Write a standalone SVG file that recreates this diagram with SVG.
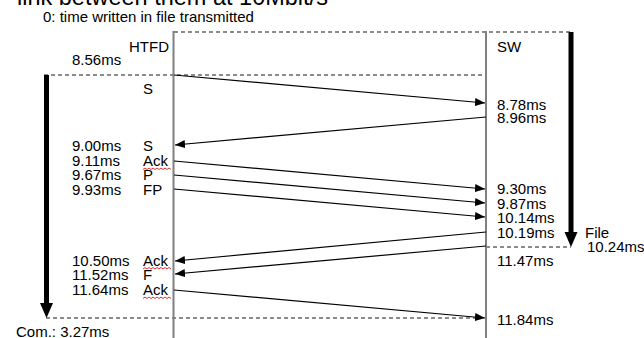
<svg xmlns="http://www.w3.org/2000/svg" width="644" height="338" viewBox="0 0 644 338">
<defs>
<marker id="ah" markerUnits="userSpaceOnUse" markerWidth="10" markerHeight="8" refX="10" refY="4" orient="auto">
<path d="M0,0 L10,4 L0,8 z" fill="#000"/>
</marker>
<style>
text{font-family:"Liberation Sans",Arial,sans-serif;font-size:15px;fill:#000}
.title{font-size:23.5px}
.life{stroke:#808080;stroke-width:2;fill:none}
.dash{stroke:#666;stroke-width:1.5;stroke-dasharray:4 3;fill:none}
.msg{stroke:#000;stroke-width:1.2;fill:none;marker-end:url(#ah)}
.thick{stroke:#000;stroke-width:5;fill:none}
.sq{stroke:#e03030;stroke-width:1;fill:none}
</style>
</defs>
<rect width="644" height="338" fill="#fff"/>
<text class="title" x="17" y="5">link between them at 10Mbit/s</text>
<text x="43" y="22">0: time written in file transmitted</text>

<g id="dashed-guides">
<line class="dash" x1="174" y1="32" x2="571" y2="32"/>
<line class="dash" x1="44" y1="75" x2="486" y2="75"/>
<line class="dash" x1="486" y1="247" x2="571" y2="247"/>
<line class="dash" x1="46" y1="318" x2="478" y2="318"/>
</g>

<g id="node-htfd">
<line class="life" x1="173.5" y1="31" x2="173.5" y2="338"/>
<text x="169" y="52" text-anchor="end">HTFD</text>
</g>
<g id="node-sw">
<line class="life" x1="486" y1="31" x2="486" y2="338"/>
<text x="497" y="52">SW</text>
</g>

<g id="durations">
<line class="thick" x1="46.5" y1="75" x2="46.5" y2="304"/>
<polygon points="40,303 53,303 46.5,318" fill="#000"/>
<text x="16" y="337">Com.: 3.27ms</text>
<line class="thick" x1="571" y1="32" x2="571" y2="233"/>
<polygon points="564.5,232 577.5,232 571,247" fill="#000"/>
<text x="585" y="238">File</text>
<text x="587" y="252">10.24ms</text>
</g>

<g id="connectors">
<line class="msg" x1="174" y1="75" x2="485" y2="103"/>
<line class="msg" x1="486" y1="117" x2="175" y2="145"/>
<line class="msg" x1="174" y1="161" x2="485" y2="189"/>
<line class="msg" x1="174" y1="175" x2="485" y2="203"/>
<line class="msg" x1="174" y1="189" x2="485" y2="217"/>
<line class="msg" x1="486" y1="232" x2="175" y2="261"/>
<line class="msg" x1="486" y1="246" x2="175" y2="274"/>
<line class="msg" x1="174" y1="290" x2="485" y2="318"/>
</g>

<g id="htfd-labels">
<text x="72" y="65">8.56ms</text>
<text x="143" y="94">S</text>
<text x="72" y="151">9.00ms</text><text x="143" y="151">S</text>
<text x="72" y="166">9.11ms</text><text x="143" y="166">Ack</text>
<text x="72" y="180">9.67ms</text><text x="143" y="180">P</text>
<text x="72" y="195">9.93ms</text><text x="143" y="195">FP</text>
<text x="72" y="266">10.50ms</text><text x="143" y="266">Ack</text>
<text x="72" y="280">11.52ms</text><text x="143" y="280">F</text>
<text x="72" y="295">11.64ms</text><text x="143" y="295">Ack</text>
<path class="sq" d="M143,169.5 l2,-1.5 l2,1.5 l2,-1.5 l2,1.5 l2,-1.5 l2,1.5 l2,-1.5 l2,1.5 l2,-1.5 l2,1.5 l2,-1.5 l2,1.5 l2,-1.5 l2,1.5"/>
<path class="sq" d="M143,269 l2,-1.5 l2,1.5 l2,-1.5 l2,1.5 l2,-1.5 l2,1.5 l2,-1.5 l2,1.5 l2,-1.5 l2,1.5 l2,-1.5 l2,1.5 l2,-1.5 l2,1.5"/>
<path class="sq" d="M143,298.5 l2,-1.5 l2,1.5 l2,-1.5 l2,1.5 l2,-1.5 l2,1.5 l2,-1.5 l2,1.5 l2,-1.5 l2,1.5 l2,-1.5 l2,1.5 l2,-1.5 l2,1.5"/>
</g>

<g id="sw-labels">
<text x="497" y="110">8.78ms</text>
<text x="497" y="123">8.96ms</text>
<text x="497" y="194">9.30ms</text>
<text x="497" y="208.5">9.87ms</text>
<text x="497" y="223">10.14ms</text>
<text x="497" y="237.5">10.19ms</text>
<text x="497" y="266">11.47ms</text>
<text x="497" y="325">11.84ms</text>
</g>
</svg>
